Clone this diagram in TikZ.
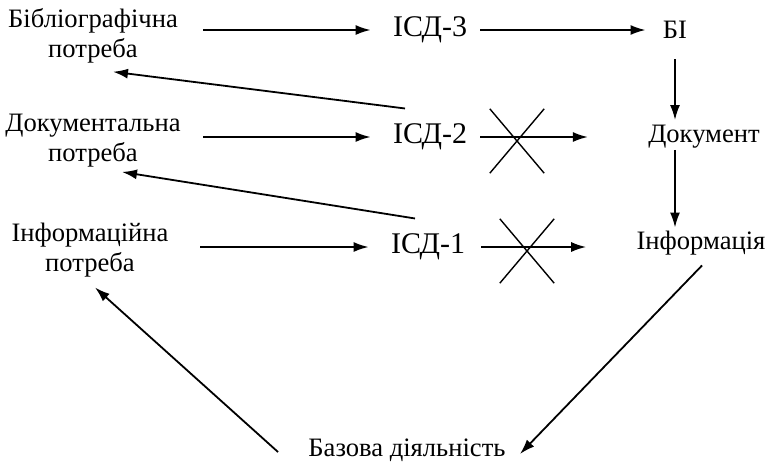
\documentclass[tikz,border=0pt]{standalone}
\usepackage{fontspec}
\setmainfont{Liberation Serif}
\usetikzlibrary{arrows.meta,shapes.misc,positioning}

\tikzset{
  need/.style={text width=92pt, align=center, inner sep=0pt, font=\fontsize{13.3}{15}\selectfont},
  sys/.style={inner sep=0pt, font=\fontsize{15}{16}\selectfont},
  res/.style={inner sep=0pt, font=\fontsize{13.3}{15}\selectfont},
  flow/.style={-{Latex[length=7.5pt,width=5pt]}, line width=0.9pt},
  block/.style={cross out, draw, line width=0.7pt, minimum width=26.5pt, minimum height=31.5pt, inner sep=0pt},
}

\begin{document}
\begin{tikzpicture}[x=0.5pt,y=-0.5pt]
\useasboundingbox (0,0) rectangle (765,467);
% потреби
\node[need] (bibneed) at (93,36) {Бібліографічна\\потреба};
\node[need] (docneed) at (93,141) {Документальна\\потреба};
\node[need] (infneed) at (90,250) {Інформаційна\\потреба};
% системи
\node[sys] (isd3) at (430,30) {ІСД-3};
\node[sys] (isd2) at (430,137) {ІСД-2};
\node[sys] (isd1) at (428,247) {ІСД-1};
% результати
\node[res] (bi) at (675,30) {БІ};
\node[res] (doc) at (704,137) {Документ};
\node[res] (inf) at (701,243) {Інформація};
\node[res] (base) at (407,450) {Базова діяльність};
% блокування
\node[block] (cut2) at (517,141) {};
\node[block] (cut1) at (527,251) {};

\draw[flow, shorten <=9pt, shorten >=11pt] (isd3.west -| bibneed.east) -- (isd3.west);
\draw[flow, shorten <=9pt, shorten >=11pt] (isd2.west -| docneed.east) -- (isd2.west);
\draw[flow, shorten <=9pt, shorten >=11pt] (isd1.west -| infneed.east) -- (isd1.west);

\draw[flow, shorten <=6.5pt, shorten >=8.5pt] (isd3.east) -- (isd3.east -| bi.west);
\draw[flow, shorten <=6.5pt, shorten >=30pt] (isd2.east) -- (isd2.east -| doc.west);
\draw[flow, shorten <=8pt, shorten >=25pt] (isd1.east) -- (isd1.east -| inf.west);

\draw[flow, shorten <=10pt, shorten >=2.5pt] (bi.south) -- (bi.south |- doc.north);
\draw[flow, shorten <=0.5pt, shorten >=1.5pt] (bi.south |- doc.south) -- (bi.south |- inf.north);

\draw[flow] ([shift={(-25,-15)}]isd2.north) -- ([shift={(20,8)}]bibneed.south);
\draw[flow] ([shift={(-13,-15)}]isd1.north) -- ([shift={(29,4)}]docneed.south);

\draw[flow] ([shift={(1,10)}]inf.south) -- ([shift={(14,4)}]base.east);
\draw[flow] ([shift={(-30,2)}]base.west) -- ([shift={(5,10)}]infneed.south);
\end{tikzpicture}
\end{document}
